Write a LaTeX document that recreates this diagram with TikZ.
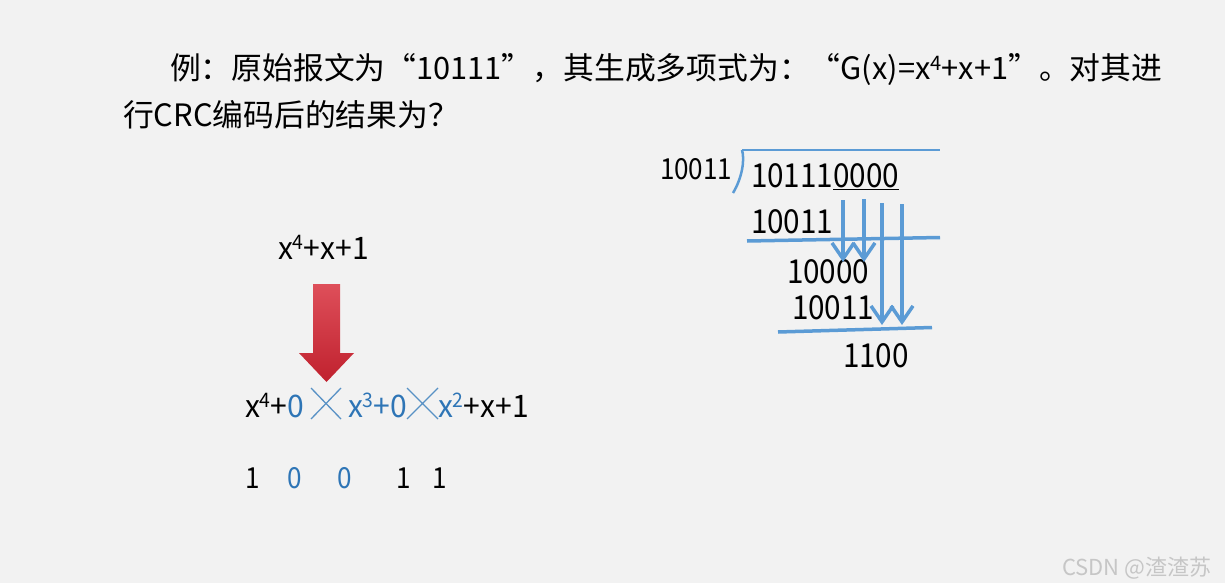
\documentclass[tikz,border=0pt]{standalone}
\usepackage{fontspec}
\setmainfont{Noto Sans CJK SC}
\newfontfamily\numfont[FakeStretch=0.9]{Noto Sans CJK SC}
\newfontfamily\polyfont[FakeStretch=0.97]{Noto Sans CJK SC}
\usetikzlibrary{arrows.meta}
\definecolor{bg}{HTML}{F2F2F2}
\definecolor{lineblue}{HTML}{5B9BD5}
\definecolor{txtblue}{HTML}{2E75B6}
\definecolor{redtop}{HTML}{DE4F5A}
\definecolor{redbot}{HTML}{C0212E}
\definecolor{wm}{HTML}{C6C6C6}
\newcommand{\fsz}[1]{\fontsize{#1}{#1}\selectfont}
\newcommand{\sups}[2]{\raisebox{0.3em}{\fsz{#1}#2}}
\begin{document}
\begin{tikzpicture}[x=1pt,y=-1pt,
  txt/.style={inner sep=0pt, outer sep=0pt, anchor=base west},
  titletxt/.style={txt, font=\fsz{30.8}},
  bignum/.style={txt, font=\fsz{33}\numfont},
  midnum/.style={txt, font=\fsz{29}\numfont},
  polytxt/.style={txt, font=\fsz{31}\polyfont},
  blueline/.style={draw=lineblue, line width=3.5pt},
  flowarrow/.style={draw=lineblue, line width=3.5pt, -{Straight Barb[length=16pt,width=22pt,line width=3.5pt]}},
  crossline/.style={draw=txtblue!80!white, line width=1.3pt},
  wmtxt/.style={txt, font=\fsz{22}, text=wm}
]
\fill[bg] (0,0) rectangle (1225,583);
\useasboundingbox (0,0) rectangle (1225,583);

% title
\node[titletxt] (t1) at (170,80) {例：原始报文为“10111”，其生成多项式为：“G(x)=x\sups{20}{4}+x+1”。对其进};
\node[titletxt] (t2) at (123,126) {行CRC编码后的结果为？};

% left: generator polynomial
\node[polytxt] (g) at (278,259) {x\sups{20}{4}+x+1};
\path[top color=redtop, bottom color=redbot, shading angle=0]
  (313,284) -- (340,284) -- (340,353) -- (354,353) -- (326.5,382) -- (299,353) -- (313,353) -- cycle;
\coordinate (arrtop) at (326.5,284);

\node[polytxt] (e1) at (245,417) {x\sups{20}{4}+};
\node[polytxt, text=txtblue, anchor=base west] (e2) at (e1.base east) {0};
\node[polytxt, text=txtblue] (e3) at (348,417) {x\sups{20}{3}+0};
\node[polytxt, text=txtblue] (e4) at (438,417) {x\sups{20}{2}};
\node[polytxt, anchor=base west] (e5) at (e4.base east) {+x+1};
\coordinate (c1a) at (311,388); \coordinate (c1b) at (341,419);
\coordinate (c1c) at (341,388); \coordinate (c1d) at (311,419);
\coordinate (c2a) at (407,388); \coordinate (c2b) at (438,419);
\coordinate (c2c) at (438,388); \coordinate (c2d) at (407,419);
\draw[crossline] (c1a) -- (c1b) (c1c) -- (c1d);
\draw[crossline] (c2a) -- (c2b) (c2c) -- (c2d);

\node[midnum] (b1) at (245,488) {1};
\node[midnum, text=txtblue] (b2) at (287,488) {0};
\node[midnum, text=txtblue] (b3) at (337,488) {0};
\node[midnum] (b4) at (396,488) {1};
\node[midnum] (b5) at (432,488) {1};

% right: long division
\node[midnum] (div) at (660,179) {10011};
\node[bignum] (dvd) at (751,187) {10111\underline{0000}};
\node[bignum] (s1) at (751,233) {10011};
\node[bignum] (r1) at (787,283) {10000};
\node[bignum] (s2) at (792,319) {10011};
\node[bignum] (rem) at (843,367) {1100};

\coordinate (brk0) at (733,193);
\coordinate (brk1) at (742,150);
\coordinate (top1) at (940,150);
\draw[draw=lineblue, line width=2.5pt] (brk0) .. controls (742,178) and (745,160) .. (brk1);
\draw[draw=lineblue, line width=2.5pt] (brk1) -- (top1);
\coordinate (l1a) at (747,241); \coordinate (l1b) at (940,237.5);
\coordinate (l2a) at (778,332); \coordinate (l2b) at (932,327.5);
\draw[blueline] (l1a) -- (l1b);
\draw[blueline] (l2a) -- (l2b);

\coordinate (a1s) at (843,200); \coordinate (a1e) at (843,262);
\coordinate (a2s) at (864,199); \coordinate (a2e) at (864,262);
\coordinate (a3s) at (882,203); \coordinate (a3e) at (882,325);
\coordinate (a4s) at (902,204); \coordinate (a4e) at (902,325);
\draw[flowarrow] (a1s) -- (a1e);
\draw[flowarrow] (a2s) -- (a2e);
\draw[flowarrow] (a3s) -- (a3e);
\draw[flowarrow] (a4s) -- (a4e);

\node[wmtxt] (wm) at (1062,575) {CSDN @渣渣苏};
\end{tikzpicture}
\end{document}
